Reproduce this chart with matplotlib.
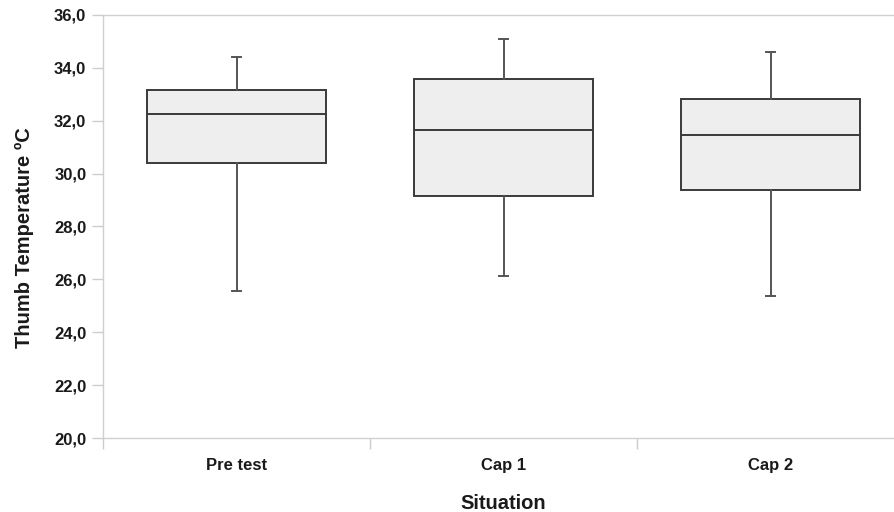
import matplotlib
matplotlib.use("Agg")
import matplotlib.pyplot as plt
from matplotlib.ticker import FixedLocator, FuncFormatter

categories = ["Pre test", "Cap 1", "Cap 2"]
whisker_low = [25.56, 26.12, 25.37]
q1 = [30.39, 29.17, 29.37]
median = [32.24, 31.63, 31.45]
q3 = [33.14, 33.57, 32.80]
whisker_high = [34.39, 35.08, 34.59]
y_ticks = [20, 22, 24, 26, 28, 30, 32, 34, 36]

plt.rcParams['font.family'] = ['Liberation Sans', 'DejaVu Sans']

fig = plt.figure(figsize=(8.94, 5.12), dpi=100)
ax = fig.add_axes([103/894, 73.7/512, 801/894, 423.6/512])

stats = []
for i, c in enumerate(categories):
    stats.append(dict(label=c, whislo=whisker_low[i], q1=q1[i], med=median[i],
                      q3=q3[i], whishi=whisker_high[i], fliers=[]))

ax.bxp(stats, positions=range(len(categories)), widths=0.667, patch_artist=True,
       showfliers=False,
       boxprops=dict(facecolor="#eeeeee", edgecolor="#3a3a3a", linewidth=1.4),
       medianprops=dict(color="#3a3a3a", linewidth=1.4),
       whiskerprops=dict(color="#555555", linewidth=1.4),
       capprops=dict(color="#555555", linewidth=1.4),
       capwidths=0.03)

ax.set_xlim(-0.5, 2.5)
ax.set_ylim(20, 36)
ax.yaxis.set_major_locator(FixedLocator(y_ticks))
ax.yaxis.set_major_formatter(FuncFormatter(lambda v, p: f"{v:.1f}".replace(".", ",")))

ax.set_xticks(range(len(categories)))
ax.set_xticklabels(categories, fontweight="bold", fontsize=12, color="#1a1a1a")
ax.set_xticks([-0.5, 0.5, 1.5, 2.5], minor=True)
ax.tick_params(axis="x", which="major", length=0, pad=14)
ax.tick_params(axis="x", which="minor", length=8, color="#cccccc", width=1)
ax.tick_params(axis="y", which="major", length=8, color="#cccccc", width=1, pad=4,
               labelsize=12, labelcolor="#1a1a1a")
for lbl in ax.get_yticklabels():
    lbl.set_fontweight("bold")

for s in ["left", "bottom", "top"]:
    ax.spines[s].set_color("#d0d0d0")
    ax.spines[s].set_linewidth(1)
ax.spines["right"].set_visible(False)

ax.set_ylabel("Thumb Temperature ºC", fontweight="bold", fontsize=14.5, color="#1a1a1a")
ax.yaxis.set_label_coords(-0.086, 0.473)
ax.set_xlabel("Situation", fontweight="bold", fontsize=14.5, color="#1a1a1a", labelpad=15)

fig.savefig("out.png", dpi=100)
